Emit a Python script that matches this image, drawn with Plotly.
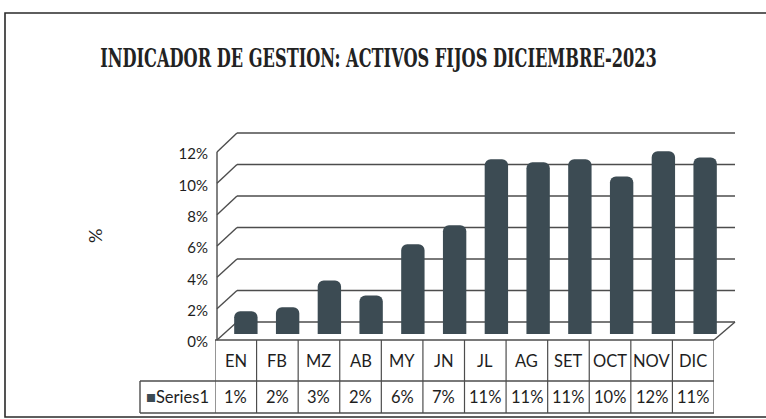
import plotly.graph_objects as go

# ---- data ---------------------------------------------------------------
months = ["EN", "FB", "MZ", "AB", "MY", "JN", "JL", "AG", "SET", "OCT", "NOV", "DIC"]
values = [1.45, 1.7, 3.4, 2.45, 5.7, 6.9, 11.1, 10.9, 11.1, 10.0, 11.6, 11.2]
y_ticks = [0, 2, 4, 6, 8, 10, 12]
y_tick_text = [f"{v}%" for v in y_ticks]
series_name = "Series1"
title_text = "INDICADOR DE GESTION: ACTIVOS FIJOS DICIEMBRE-2023"

# ---- geometry helpers (pixel -> paper) ------------------------------------
W, H = 766, 419


def px(x):
    return x / W


def py(y):
    return 1 - y / H


BAR = "#3c4b53"
LINE = "#4d4d4d"
INK = "#1e1e1e"
FONT = "Lato, Open Sans, sans-serif"

# front, middle (bars) and back planes of the pseudo-3D box
FRONT = dict(x0=215, x1=714, y0=340, y1=152)
MID = dict(x0=225, x1=726, y0=334, y1=145)
BACK = dict(x0=237, x1=735, y0=322, y1=133)
YMAX = 12

fig = go.Figure()

fig.add_trace(go.Bar(
    x=months, y=values, name=series_name,
    xaxis="x2", yaxis="y2",
    width=0.56,
    marker=dict(color=BAR, line=dict(width=0), cornerradius=6),
    hoverinfo="skip", showlegend=False,
))

axis_off = dict(visible=False, fixedrange=True)

fig.update_layout(
    width=W, height=H,
    margin=dict(l=0, r=0, t=0, b=0, pad=0, autoexpand=False),
    paper_bgcolor="white", plot_bgcolor="rgba(0,0,0,0)",
    showlegend=False,
    # front plane: tick labels and table columns
    xaxis=dict(domain=[px(FRONT["x0"]), px(FRONT["x1"])], anchor="y",
               type="category", categoryarray=months, range=[-0.5, len(months) - 0.5],
               automargin=False, **axis_off),
    yaxis=dict(domain=[py(FRONT["y0"] + 2), py(FRONT["y1"] + 2)], anchor="x",
               range=[0, YMAX], tickvals=y_ticks, ticktext=y_tick_text,
               showgrid=False, zeroline=False, showline=False, ticks="",
               ticklabelstandoff=6, automargin=False,
               tickfont=dict(family=FONT, size=15, color=INK), fixedrange=True),
    # middle plane: bars
    xaxis2=dict(domain=[px(MID["x0"]), px(MID["x1"])], anchor="y2",
                type="category", categoryarray=months, range=[-0.5, len(months) - 0.5],
                automargin=False, **axis_off),
    yaxis2=dict(domain=[py(MID["y0"]), py(MID["y1"])], anchor="x2",
                range=[0, YMAX], automargin=False, **axis_off),
)


def front_y(v):
    return FRONT["y0"] + (FRONT["y1"] - FRONT["y0"]) * v / YMAX


def back_y(v):
    return BACK["y0"] + (BACK["y1"] - BACK["y0"]) * v / YMAX


shapes = []


def seg(x0, y0, x1, y1, width=1.4, color=LINE, layer="below"):
    shapes.append(dict(type="line", xref="paper", yref="paper",
                       x0=px(x0), y0=py(y0), x1=px(x1), y1=py(y1),
                       line=dict(color=color, width=width), layer=layer))


# back wall gridlines, left side wall (front edge + diagonals), floor edge
for v in y_ticks:
    seg(BACK["x0"], back_y(v), BACK["x1"], back_y(v), width=1.6)
    seg(FRONT["x0"] + 2, front_y(v), BACK["x0"], back_y(v))
seg(FRONT["x0"] + 2, front_y(0), FRONT["x0"] + 2, front_y(YMAX))
seg(FRONT["x1"], FRONT["y0"], BACK["x1"], back_y(0))

# data table
ROW1_BOT = 381
ROW2_BOT = 413
KEY_X0 = 140
seg(FRONT["x0"], FRONT["y0"], FRONT["x1"], FRONT["y0"])
seg(KEY_X0, ROW1_BOT, FRONT["x1"], ROW1_BOT)
seg(KEY_X0, ROW2_BOT, FRONT["x1"], ROW2_BOT)
seg(KEY_X0, ROW1_BOT, KEY_X0, ROW2_BOT)
for i in range(len(months) + 1):
    shapes.append(dict(type="line", xref="x", yref="paper",
                       x0=i - 0.5, x1=i - 0.5, y0=py(FRONT["y0"]), y1=py(ROW2_BOT),
                       line=dict(color=LINE, width=1.2)))

# outer frame
shapes.append(dict(type="rect", xref="paper", yref="paper",
                   x0=px(5), y0=py(417), x1=px(772), y1=py(13),
                   line=dict(color="#2a2a2a", width=1.6), layer="below"))

annotations = []
cell_font = dict(family=FONT, size=16.5, color=INK)
for m, v in zip(months, values):
    annotations.append(dict(x=m, xref="x", y=py((FRONT["y0"] + ROW1_BOT) / 2), yref="paper",
                            text=m, showarrow=False, xanchor="center", yanchor="middle",
                            font=cell_font))
    annotations.append(dict(x=m, xref="x", y=py((ROW1_BOT + ROW2_BOT) / 2), yref="paper",
                            text=f"{round(v)}%", showarrow=False,
                            xanchor="center", yanchor="middle", font=cell_font))

annotations.append(dict(x=px((KEY_X0 + FRONT["x0"]) / 2), xref="paper",
                        y=py((ROW1_BOT + ROW2_BOT) / 2), yref="paper",
                        text=f"<span style='color:{BAR}'>■</span>{series_name}",
                        showarrow=False, xanchor="center", yanchor="middle",
                        font=cell_font))

annotations.append(dict(x=px(95), y=py(236), xref="paper", yref="paper",
                        text="%", textangle=-90, showarrow=False,
                        xanchor="center", yanchor="middle",
                        font=dict(family=FONT, size=18, color=INK)))

annotations.append(dict(x=px(378), y=py(57), xref="paper", yref="paper",
                        text=f"<b>{title_text}</b>", showarrow=False,
                        xanchor="center", yanchor="middle",
                        font=dict(family="DejaVu Serif Condensed, DejaVu Serif, serif",
                                  size=18, color="#222222")))

fig.update_layout(shapes=shapes, annotations=annotations)

# stretch the title vertically so it reads as a tall, condensed heading
title_js = """
var gd = document.getElementById('{plot_id}');
gd.querySelectorAll('.annotation-text').forEach(function (t) {
  if (t.textContent.indexOf('INDICADOR') === 0) {
    t.style.transformBox = 'fill-box';
    t.style.transformOrigin = 'center';
    t.style.transform = 'scaleY(1.45)';
  }
});
"""

fig.write_html("out.html", post_script=title_js)
